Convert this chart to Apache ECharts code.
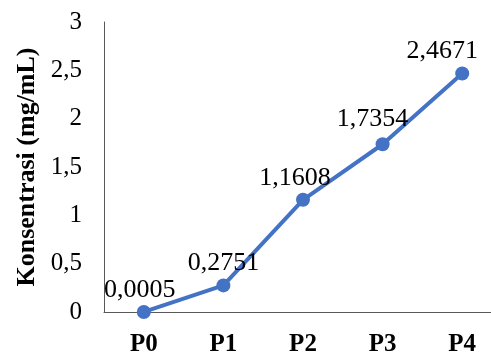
<!DOCTYPE html>
<html>
<head>
<meta charset="utf-8">
<script src="https://cdn.jsdelivr.net/npm/echarts@6/dist/echarts.min.js"></script>
<style>html,body{margin:0;padding:0;background:#fff;}#c{width:491px;height:354px;}</style>
</head>
<body>
<div id="c"></div>
<script>
var categories = ['P0', 'P1', 'P2', 'P3', 'P4'];
var values = [0.0005, 0.2751, 1.1608, 1.7354, 2.4671];
var yTicks = [0, 0.5, 1, 1.5, 2, 2.5, 3];
var yTitle = 'Konsentrasi (mg/mL)';
var labelShiftX = [-4, 0, -8, -10, -20];
var labelShiftY = [0, 0, 0, -3, 0];

var fmt = function (v) { return String(v).replace('.', ','); };
var chart = echarts.init(document.getElementById('c'), null, {renderer: 'canvas'});
var font = '"Liberation Serif", "Times New Roman", serif';
chart.setOption({
  animation: false,
  grid: {left: 104, top: 22, width: 398, bottom: 42, containLabel: false, outerBoundsMode: 'none'},
  xAxis: {
    type: 'category',
    data: categories,
    boundaryGap: true,
    axisLine: {lineStyle: {color: '#595959', width: 1}},
    axisTick: {show: false},
    axisLabel: {fontFamily: font, fontSize: 25, fontWeight: 'bold', color: '#000', margin: 20}
  },
  yAxis: {
    type: 'value',
    min: yTicks[0],
    max: yTicks[yTicks.length - 1],
    interval: 0.5,
    name: yTitle,
    nameLocation: 'middle',
    nameGap: 64,
    nameTextStyle: {fontFamily: font, fontSize: 26, fontWeight: 'bold', color: '#000'},
    axisLine: {show: true, lineStyle: {color: '#595959', width: 1}},
    axisTick: {show: false},
    splitLine: {show: false},
    axisLabel: {fontFamily: font, fontSize: 25, color: '#000', margin: 22, formatter: function (v) { return fmt(v); }}
  },
  series: [{
    type: 'line',
    data: values.map(function (v, i) {
      return {value: v, label: {offset: [labelShiftX[i], labelShiftY[i]]}};
    }),
    lineStyle: {color: '#4472C4', width: 4},
    itemStyle: {color: '#4472C4'},
    symbol: 'circle',
    symbolSize: 14,
    label: {
      show: true, position: 'top', distance: 2,
      fontFamily: font, fontSize: 26, color: '#000',
      formatter: function (p) { return fmt(p.value); }
    }
  }]
});
</script>
</body>
</html>
